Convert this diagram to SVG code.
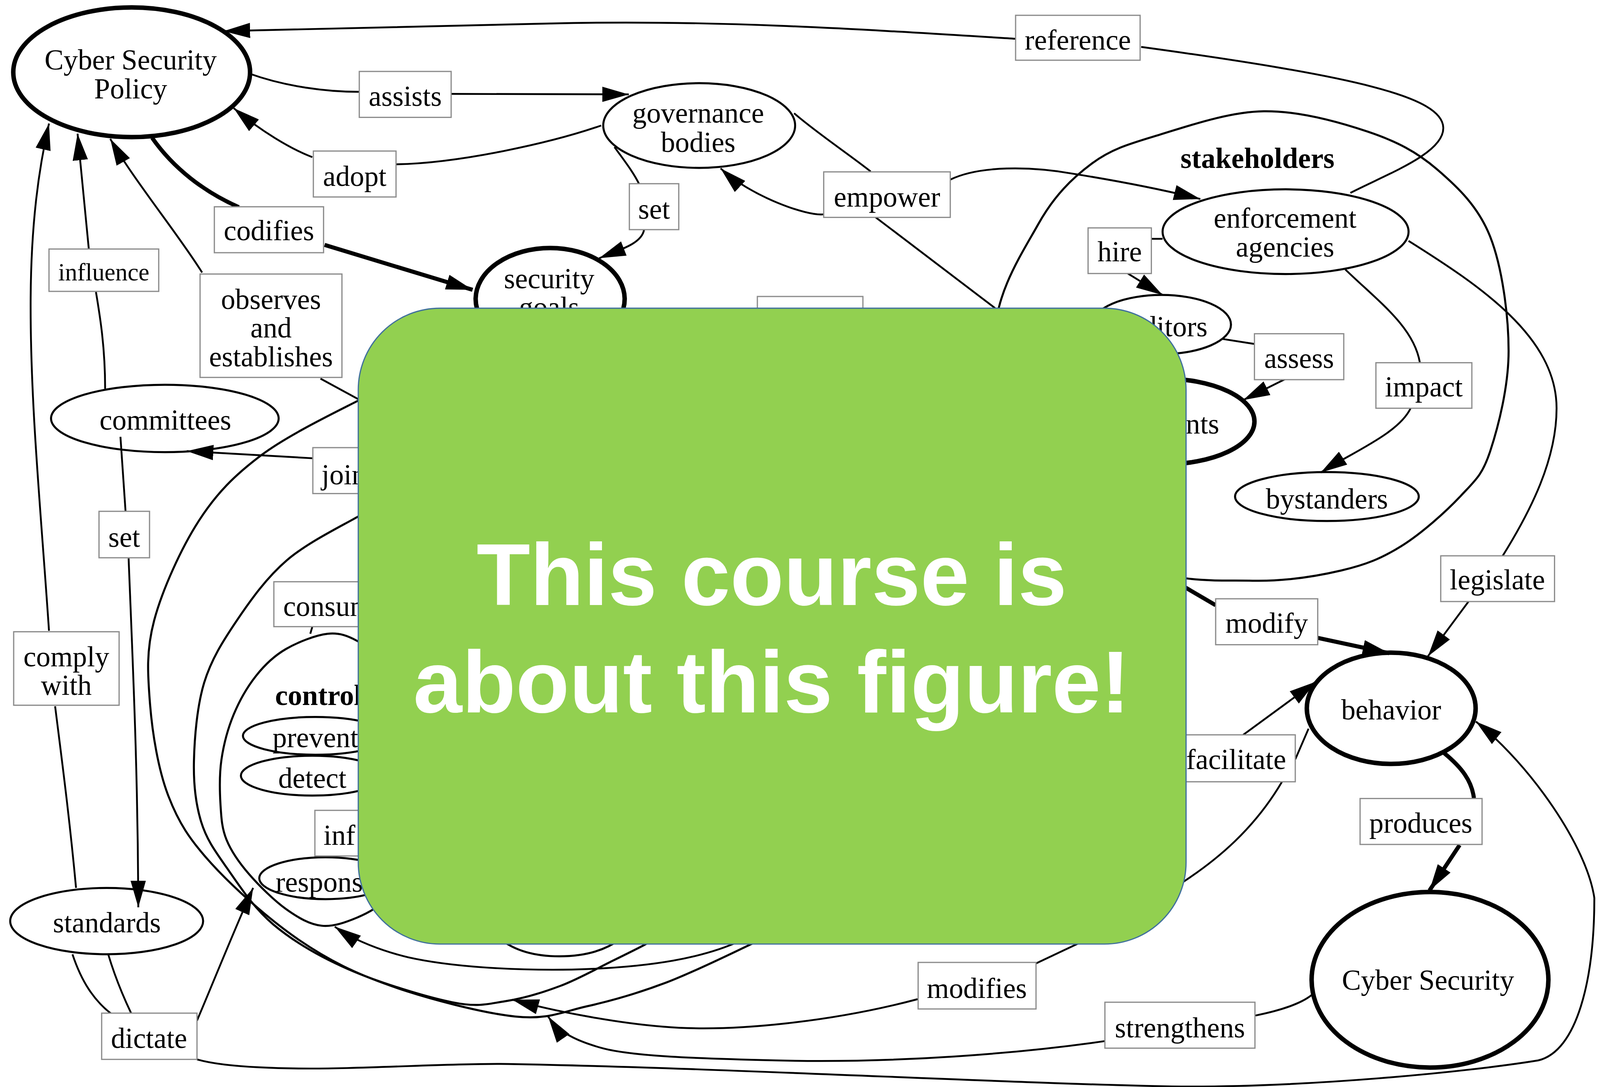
<svg xmlns="http://www.w3.org/2000/svg" width="4097" height="2783" viewBox="0 0 4097 2783">
<defs>
<style>
.n{fill:none;stroke:#000;stroke-width:2}
.nb{fill:none;stroke:#000;stroke-width:4.4}
.e{fill:none;stroke:#000;stroke-width:1.8}
.eb{fill:none;stroke:#000;stroke-width:4}
.ea{fill:none;stroke:#000;stroke-width:1.8;marker-end:url(#ah)}
.eba{fill:none;stroke:#000;stroke-width:4;marker-end:url(#ah)}
.lb{fill:#fff;stroke:#8c8c8c;stroke-width:1.2}
.t{font-family:"Liberation Serif","Times New Roman",serif;font-size:28px;fill:#000;text-anchor:middle}
.s{text-anchor:start}
.en{text-anchor:end}
.b{font-weight:bold}
.sm{font-size:24px}
.ov{fill:#92D050;stroke:#41719C;stroke-width:1.2}
.ot{font-family:"Liberation Sans",Arial,Helvetica,sans-serif;font-weight:bold;font-size:86px;fill:#fff;text-anchor:middle}
</style>
<marker id="ah" markerUnits="userSpaceOnUse" viewBox="0 0 26 15" markerWidth="26" markerHeight="15" refX="26" refY="7.5" orient="auto"><path d="M0,0L26,7.5L0,15z" fill="#000"/></marker>
</defs>
<rect width="4097" height="2783" fill="#fff"/>
<g transform="scale(2.613)">

<g id="clusters">
<path id="cluster-stakeholders" class="n" d="M1238,109 C1272,108.5 1311.7,119.5 1340,129 C1368.3,138.5 1388,148.8 1408,166 C1428,183.2 1448.3,202.3 1460,232 C1471.7,261.7 1478,309 1478,344 C1478,379 1467.8,418.3 1460,442 C1452.2,465.7 1445.5,470.5 1431,486 C1416.5,501.5 1392.5,522.8 1373,535 C1353.5,547.2 1338.3,553.3 1314,559 C1289.7,564.7 1259.3,569.7 1227,569 C1194.7,568.3 1154.5,571.5 1120,555 C1085.5,538.5 1044.2,507.5 1020,470 C995.8,432.5 975.5,371.7 975,330 C974.5,288.3 1001.2,248.3 1017,220 C1032.8,191.7 1050.2,174.7 1070,160 C1089.8,145.3 1108,140.5 1136,132 C1164,123.5 1204,109.5 1238,109 Z"/>
<path id="cluster-outer" class="n" d="M400,372 C392,375.3 376,379.7 352,392 C328,404.3 282.2,426.3 256,446 C229.8,465.7 212.5,483 195,510 C177.5,537 159,578 151,608 C143,638 144.7,661.3 147,690 C149.3,718.7 155,754 165,780 C175,806 185.7,822.5 207,846 C228.3,869.5 263.7,901 293,921 C322.3,941 347.7,953.5 383,966 C418.3,978.5 473,992.7 505,996 C537,999.3 550.5,991.5 575,986 C599.5,980.5 625.5,973 652,963 C678.5,953 716,934.5 734,926 C752,917.5 755.7,914.3 760,912"/>
<path id="cluster-inner" class="n" d="M400,482 C391.8,486 370.8,494.8 351,506 C331.2,517.2 300.8,532 281,549 C261.2,566 245.5,588 232,608 C218.5,628 207,646 200,669 C193,692 190.5,723.3 190,746 C189.5,768.7 191.7,787.7 197,805 C202.3,822.3 210.2,833.2 222,850 C233.8,866.8 248,889.3 268,906 C288,922.7 312.8,937.3 342,950 C371.2,962.7 417.5,976.8 443,982 C468.5,987.2 477.3,983.7 495,981 C512.7,978.3 531.5,972.6 549,966 C566.5,959.4 586.3,948.2 600,941.5 C613.7,934.8 622.7,930.4 631,926 C634.2,924.2 646.8,916.8 650,915"/>
<path id="cluster-controls" class="n" d="M321,621 C309.3,622.3 291.7,629.2 280,636 C268.3,642.8 259.5,651.3 251,662 C242.5,672.7 234.7,686.3 229,700 C223.3,713.7 219.2,729.3 217,744 C214.8,758.7 215.2,774.8 216,788 C216.8,801.2 217.3,811.6 222,823 C226.7,834.4 234.2,845.2 244,856.5 C253.8,867.8 268.8,882.6 280.6,891 C292.4,899.4 303.4,905.7 315,907 C326.6,908.3 339.2,903.5 350,899 C360.8,894.5 370.8,889 380,880 C389.2,871 399.2,861.7 405,845 C410.8,828.3 415,804.2 415,780 C415,755.8 411.7,721.7 405,700 C398.3,678.3 384.2,662 375,650 C365.8,638 359,632.8 350,628 C341,623.2 332.7,619.7 321,621 Z"/>
<path id="hidden-node-bottom" class="n" d="M490,920 C505,932 525,937 548,937 C572,937 592,932 608,920"/>
<text class="t b" x="1232" y="164.7">stakeholders</text>
<text class="t s b" x="269.5" y="690.8">control</text>
</g>

<g id="connectors">
<path class="e" d="M1323,189 C1360,170 1415,150 1414,125 C1413,95 1330,75 1118,46"/>
<path class="ea" d="M995,38 C850,29 700,19 540,23 C430,25 320,28 219,30.5"/>
<path class="e" d="M244,72 C280,85 320,90 352,90"/>
<path class="ea" d="M442,92 L616,92.5"/>
<path class="e" d="M589,123 C540,140 450,160 388,161"/>
<path class="ea" d="M306,154 C285,146 255,128 229,106"/>
<path class="eb" d="M149,135 C170,165 200,188 234,203"/>
<path class="eba" d="M318,240 L463,284"/>
<path class="e" d="M103,381 C103,340 98,310 94,286"/>
<path class="ea" d="M87,244 C83,200 79,160 76,131"/>
<path class="ea" d="M198,267 C175,230 130,175 108,136"/>
<path class="e" d="M314,371 L360,396"/>
<path class="ea" d="M306,449 C260,446 220,444 183,442"/>
<path class="e" d="M118,428 L123,501"/>
<path class="ea" d="M126,547 C130,650 135,750 135.5,889"/>
<path class="e" d="M74.5,870 C68,800 60,740 54,692"/>
<path class="ea" d="M48,618 C40,500 30,400 30,300 C30,220 38,165 48,121"/>
<path class="e" d="M71,935 C80,962 92,980 108.6,993"/>
<path class="e" d="M106,935 C112,955 120,975 128.6,993"/>
<path class="ea" d="M193,1000 C210,960 230,910 248,870"/>
<path class="ea" d="M193,1038 C220,1046 280,1048 340,1046.5 C400,1045 450,1042 498,1042.5 C700,1046 1000,1062 1148,1064.5 C1280,1066 1440,1050 1507,1039 C1545,1030 1562,960 1562,880 C1555,830 1500,750 1446,707"/>
<path class="e" d="M1380,236 C1450,280 1525,330 1525,400 C1525,450 1500,500 1472,545"/>
<path class="ea" d="M1439,589 L1399,643"/>
<path class="e" d="M1318,264 C1350,295 1385,320 1391,355"/>
<path class="ea" d="M1382,400 C1370,425 1325,443 1294,463"/>
<path class="e" d="M1197,332 L1229,337"/>
<path class="ea" d="M1260,371 L1218,392"/>
<path class="e" d="M1139,234 L1128,234"/>
<path class="ea" d="M1105,268 L1139,289"/>
<path class="e" d="M778,111 C800,130 830,150 853,168"/>
<path class="ea" d="M807,210 C790,212 735,192 706,165"/>
<path class="ea" d="M931,176 C960,162 1010,163 1050,170 C1100,178 1140,186 1176,195"/>
<path class="e" d="M858,213 L975,302"/>
<path class="e" d="M602,144 C612,158 620,168 626,180"/>
<path class="ea" d="M631,225 C629,238 610,244 587,253"/>
<path class="eb" d="M1150,569 L1191,593"/>
<path class="eba" d="M1291,625 L1361,640"/>
<path class="ea" d="M1218,720 L1289,668"/>
<path class="e" d="M1282,714 L1269,744"/>
<path class="e" d="M1256,766 C1230,810 1195,842 1150,870"/>
<path class="e" d="M1015,944 L1070,918"/>
<path class="ea" d="M899,979 C820,1000 720,1012 650,1006 C600,1002 540,990 502,979.5"/>
<path class="ea" d="M1083,1020 C1000,1032 880,1042 760,1039 C680,1037 620,1035 590,1027 C565,1020 548,1012 537,996"/>
<path class="e" d="M1230,995 C1255,990 1275,983 1285,975"/>
<path class="eb" d="M1415,738 C1432,752 1442,765 1444,782"/>
<path class="eba" d="M1430,828 L1400.5,872.5"/>
<path class="ea" d="M725,922 C690,938 640,948 560,950 C500,951 440,947 400,938 C375,932 348,922 328,908"/>
<path class="e" d="M306,614 L304,621"/>
</g>

<g id="node-policy"><ellipse class="nb" cx="129" cy="70.8" rx="116" ry="63.5"/><text class="t" x="128" y="68">Cyber Security</text><text class="t" x="128" y="96.5">Policy</text></g>
<g id="node-governance"><ellipse class="n" cx="685" cy="123" rx="94" ry="41.5"/><text class="t" x="684" y="120">governance</text><text class="t" x="684" y="149">bodies</text></g>
<g id="node-security-goals"><ellipse class="nb" cx="539" cy="293" rx="73" ry="50"/><text class="t" x="538" y="282.5">security</text><text class="t" x="538" y="310.5">goals</text></g>
<g id="node-enforcement"><ellipse class="n" cx="1259.5" cy="227" rx="120.5" ry="41.5"/><text class="t" x="1259" y="223">enforcement</text><text class="t" x="1259" y="251.5">agencies</text></g>
<g id="node-auditors"><ellipse class="n" cx="1138" cy="318" rx="68" ry="29"/><text class="t en" x="1183" y="329.5">ditors</text></g>
<g id="node-participants"><ellipse class="nb" cx="1140" cy="413" rx="89" ry="42"/><text class="t en" x="1194.5" y="424.8">nts</text></g>
<g id="node-bystanders"><ellipse class="n" cx="1300" cy="486.5" rx="90" ry="24"/><text class="t" x="1300" y="498.2">bystanders</text></g>
<g id="node-committees"><ellipse class="n" cx="161.5" cy="410" rx="111.5" ry="33"/><text class="t" x="162" y="421">committees</text></g>
<g id="node-standards"><ellipse class="n" cx="104.5" cy="902.5" rx="94.5" ry="32.5"/><text class="t" x="104.7" y="913.5">standards</text></g>
<g id="node-behavior"><ellipse class="nb" cx="1363" cy="694" rx="82.7" ry="54.5"/><text class="t" x="1363" y="705">behavior</text></g>
<g id="node-cyber-security"><ellipse class="nb" cx="1401" cy="960" rx="116" ry="86"/><text class="t" x="1399" y="969.6">Cyber Security</text></g>
<g id="node-prevent"><ellipse class="n" cx="309" cy="721" rx="71" ry="18.5"/><text class="t s" x="267" y="732">prevent</text></g>
<g id="node-detect"><ellipse class="n" cx="306" cy="760" rx="70" ry="19.5"/><text class="t" x="306" y="772">detect</text></g>
<g id="node-response"><ellipse class="n" cx="319" cy="860.5" rx="65" ry="20.5"/><text class="t s" x="270" y="873.7">respons</text></g>

<g id="label-reference"><rect class="lb" x="995" y="15" width="122" height="44"/><text class="t" x="1056" y="48.5">reference</text></g>
<g id="label-assists"><rect class="lb" x="352" y="70" width="90" height="45"/><text class="t" x="397" y="103.7">assists</text></g>
<g id="label-adopt"><rect class="lb" x="307" y="148" width="81" height="45"/><text class="t" x="347.5" y="182">adopt</text></g>
<g id="label-codifies"><rect class="lb" x="210" y="202.6" width="107" height="45"/><text class="t" x="263.5" y="235.5">codifies</text></g>
<g id="label-set-goals"><rect class="lb" x="616.6" y="180" width="48.4" height="45"/><text class="t" x="640.8" y="214.3">set</text></g>
<g id="label-empower"><rect class="lb" x="807" y="168.4" width="124" height="44.6"/><text class="t" x="869" y="202.6">empower</text></g>
<g id="label-influence"><rect class="lb" x="48" y="244" width="107.5" height="41.5"/><text class="t sm" x="101.7" y="274.6">influence</text></g>
<g id="label-observes"><rect class="lb" x="196" y="268.5" width="139" height="101.3"/><text class="t" x="265.5" y="302.7">observes</text><text class="t" x="265.5" y="330.7">and</text><text class="t" x="265.5" y="358.8">establishes</text></g>
<g id="label-hire"><rect class="lb" x="1066" y="223.3" width="62" height="44.7"/><text class="t" x="1097" y="256">hire</text></g>
<g id="label-assess"><rect class="lb" x="1229" y="327" width="87.5" height="45"/><text class="t" x="1272.7" y="360.7">assess</text></g>
<g id="label-impact"><rect class="lb" x="1348" y="355.4" width="94" height="44.6"/><text class="t" x="1395" y="388.4">impact</text></g>
<g id="label-hidden"><rect class="lb" x="742" y="290.5" width="103.4" height="45"/></g>
<g id="label-join"><rect class="lb" x="306.5" y="438.6" width="68" height="45"/><text class="t s" x="315" y="474.6">join</text></g>
<g id="label-set-standards"><rect class="lb" x="97" y="501" width="49.5" height="45.5"/><text class="t" x="121.7" y="535.8">set</text></g>
<g id="label-consum"><rect class="lb" x="268.3" y="570" width="118" height="44"/><text class="t s" x="277.5" y="603.6">consum</text></g>
<g id="label-comply"><rect class="lb" x="13.4" y="619" width="103.3" height="72"/><text class="t" x="65" y="653">comply</text><text class="t" x="65" y="681">with</text></g>
<g id="label-legislate"><rect class="lb" x="1411.5" y="544.6" width="111.5" height="44.8"/><text class="t" x="1467" y="577.5">legislate</text></g>
<g id="label-modify"><rect class="lb" x="1191" y="586.7" width="100" height="45"/><text class="t" x="1241" y="620">modify</text></g>
<g id="label-facilitate"><rect class="lb" x="1150" y="720" width="119" height="46"/><text class="t en" x="1260" y="753.6">facilitate</text></g>
<g id="label-produces"><rect class="lb" x="1332.5" y="782.4" width="119.5" height="45"/><text class="t" x="1392" y="816">produces</text></g>
<g id="label-inf"><rect class="lb" x="308.5" y="794" width="80" height="44.7"/><text class="t s" x="317" y="827.8">inf</text></g>
<g id="label-modifies"><rect class="lb" x="899.5" y="943" width="115.5" height="45.6"/><text class="t" x="957" y="977.8">modifies</text></g>
<g id="label-strengthens"><rect class="lb" x="1082.5" y="982" width="147" height="45"/><text class="t" x="1156" y="1016.5">strengthens</text></g>
<g id="label-dictate"><rect class="lb" x="99.6" y="992.7" width="93.4" height="45.3"/><text class="t" x="146" y="1026.8">dictate</text></g>

<g id="overlay"><rect class="ov" x="351" y="302" width="811" height="623" rx="80" ry="80"/><text class="ot" x="756" y="593">This course is</text><text class="ot" x="756" y="698">about this figure!</text></g>
</g>
</svg>
